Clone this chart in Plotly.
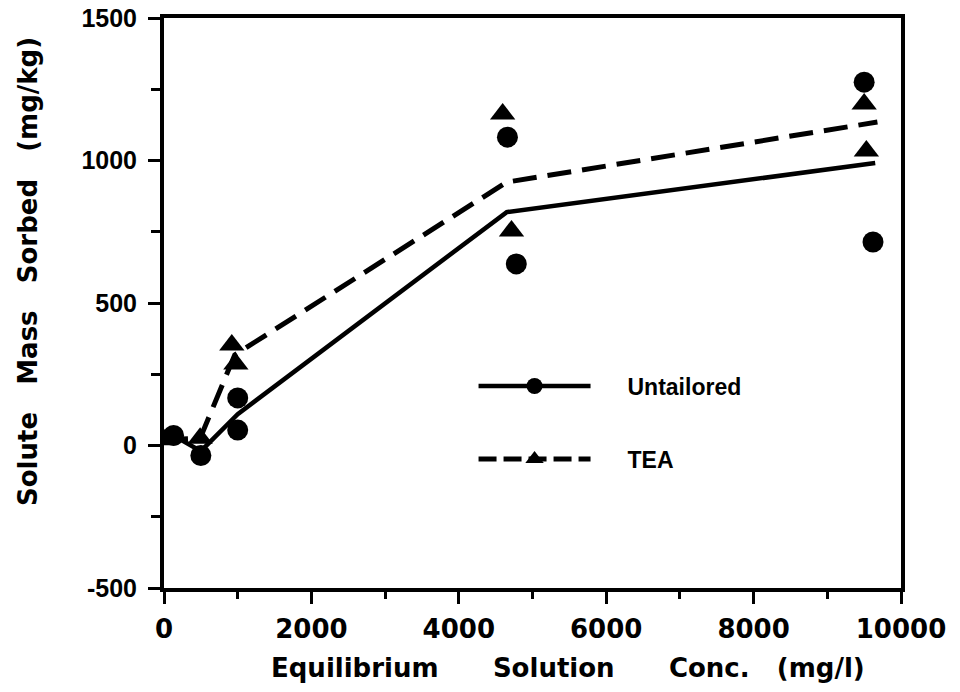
import plotly.graph_objects as go

# ---- data ----
untailored_x = [130, 500, 1000, 1000, 4660, 4780, 9500, 9620]
untailored_y = [35, -35, 167, 54, 1082, 637, 1275, 714]
tea_x = [0, 490, 920, 975, 4595, 4715, 9500, 9530]
tea_y = [20, 25, 353, 286, 1163, 753, 1198, 1033]

untailored_fit_x = [130, 500, 1000, 4650, 9650]
untailored_fit_y = [35, -20, 110, 819, 991]
tea_fit_x = [0, 490, 960, 4650, 9680]
tea_fit_y = [20, 25, 318, 924, 1135]

series_names = ["Untailored", "TEA"]
x_ticks = [0, 2000, 4000, 6000, 8000, 10000]
y_ticks = [-500, 0, 500, 1000, 1500]

WIDE = "DejaVu Sans"
HELV = "Liberation Sans"
NB = "\u00a0"

fig = go.Figure()

# fitted lines
fig.add_trace(go.Scatter(x=untailored_fit_x, y=untailored_fit_y, mode="lines",
                         line=dict(color="black", width=4.5), showlegend=False))
fig.add_trace(go.Scatter(x=tea_fit_x, y=tea_fit_y, mode="lines",
                         line=dict(color="black", width=5, dash="24px,11px"), showlegend=False))
# observed points
fig.add_trace(go.Scatter(x=untailored_x, y=untailored_y, mode="markers",
                         marker=dict(symbol="circle", size=21, color="black"), showlegend=False))
fig.add_trace(go.Scatter(x=tea_x, y=tea_y, mode="markers",
                         marker=dict(symbol="triangle-up", size=22, color="black"), showlegend=False))

# legend entries
fig.add_trace(go.Scatter(x=[None], y=[None], mode="lines+markers", name=NB * 5 + series_names[0],
                         line=dict(color="black", width=4.5),
                         marker=dict(symbol="circle", size=21, color="black"),
                         legendgroup="a"))
fig.add_trace(go.Scatter(x=[None], y=[None], mode="lines+markers", name=NB * 5 + series_names[1],
                         line=dict(color="black", width=5, dash="18px,7px"),
                         marker=dict(symbol="triangle-up", size=22, color="black"),
                         legendgroup="b"))

axis_common = dict(
    showgrid=False, zeroline=False, showline=True, linecolor="black", linewidth=4,
    mirror=True, ticks="outside", tickcolor="black", tickwidth=3, ticklen=12,
    automargin=False,
)

fig.update_xaxes(range=[0, 10000], tickvals=x_ticks, ticktext=[str(v) for v in x_ticks],
                 tickfont=dict(family=WIDE, size=26, color="black", weight="bold"),
                 minor=dict(dtick=1000, ticks="outside", ticklen=7, tickwidth=3, tickcolor="black"),
                 ticklabelstandoff=3,
                 **axis_common)
fig.update_yaxes(range=[-500, 1500], tickvals=y_ticks, ticktext=[str(v) for v in y_ticks],
                 tickfont=dict(family=HELV, size=25, color="black", weight="bold"),
                 minor=dict(dtick=250, ticks="outside", ticklen=9, tickwidth=3, tickcolor="black"),
                 ticklabelstandoff=6,
                 **axis_common)

xtitle = (NB * 6).join(["Equilibrium", "Solution", "Conc."]) + NB * 3 + "(mg/l)"
ytitle = (NB * 3).join(["Solute", "Mass", "Sorbed", "(mg/kg)"])

fig.add_annotation(text=xtitle, xref="paper", yref="paper", x=0.5, y=0,
                   xshift=35, yshift=-80, xanchor="center", yanchor="middle",
                   showarrow=False, font=dict(family=WIDE, size=26, color="black", weight="bold"))
fig.add_annotation(text=ytitle, xref="paper", yref="paper", x=0, y=0.5,
                   xshift=-136, yshift=31, xanchor="center", yanchor="middle", textangle=-90,
                   showarrow=False, font=dict(family=WIDE, size=26, color="black", weight="bold"))

fig.update_layout(
    width=960, height=692,
    margin=dict(l=164, r=59, t=18, b=104, autoexpand=False),
    paper_bgcolor="white", plot_bgcolor="white",
    legend=dict(x=0.42, y=0.392, xanchor="left", yanchor="top",
                itemwidth=112, tracegroupgap=40, traceorder="grouped",
                font=dict(family=HELV, size=23, color="black", weight="bold"),
                bgcolor="rgba(0,0,0,0)"),
    showlegend=True,
)

fig.write_html("out.html")
